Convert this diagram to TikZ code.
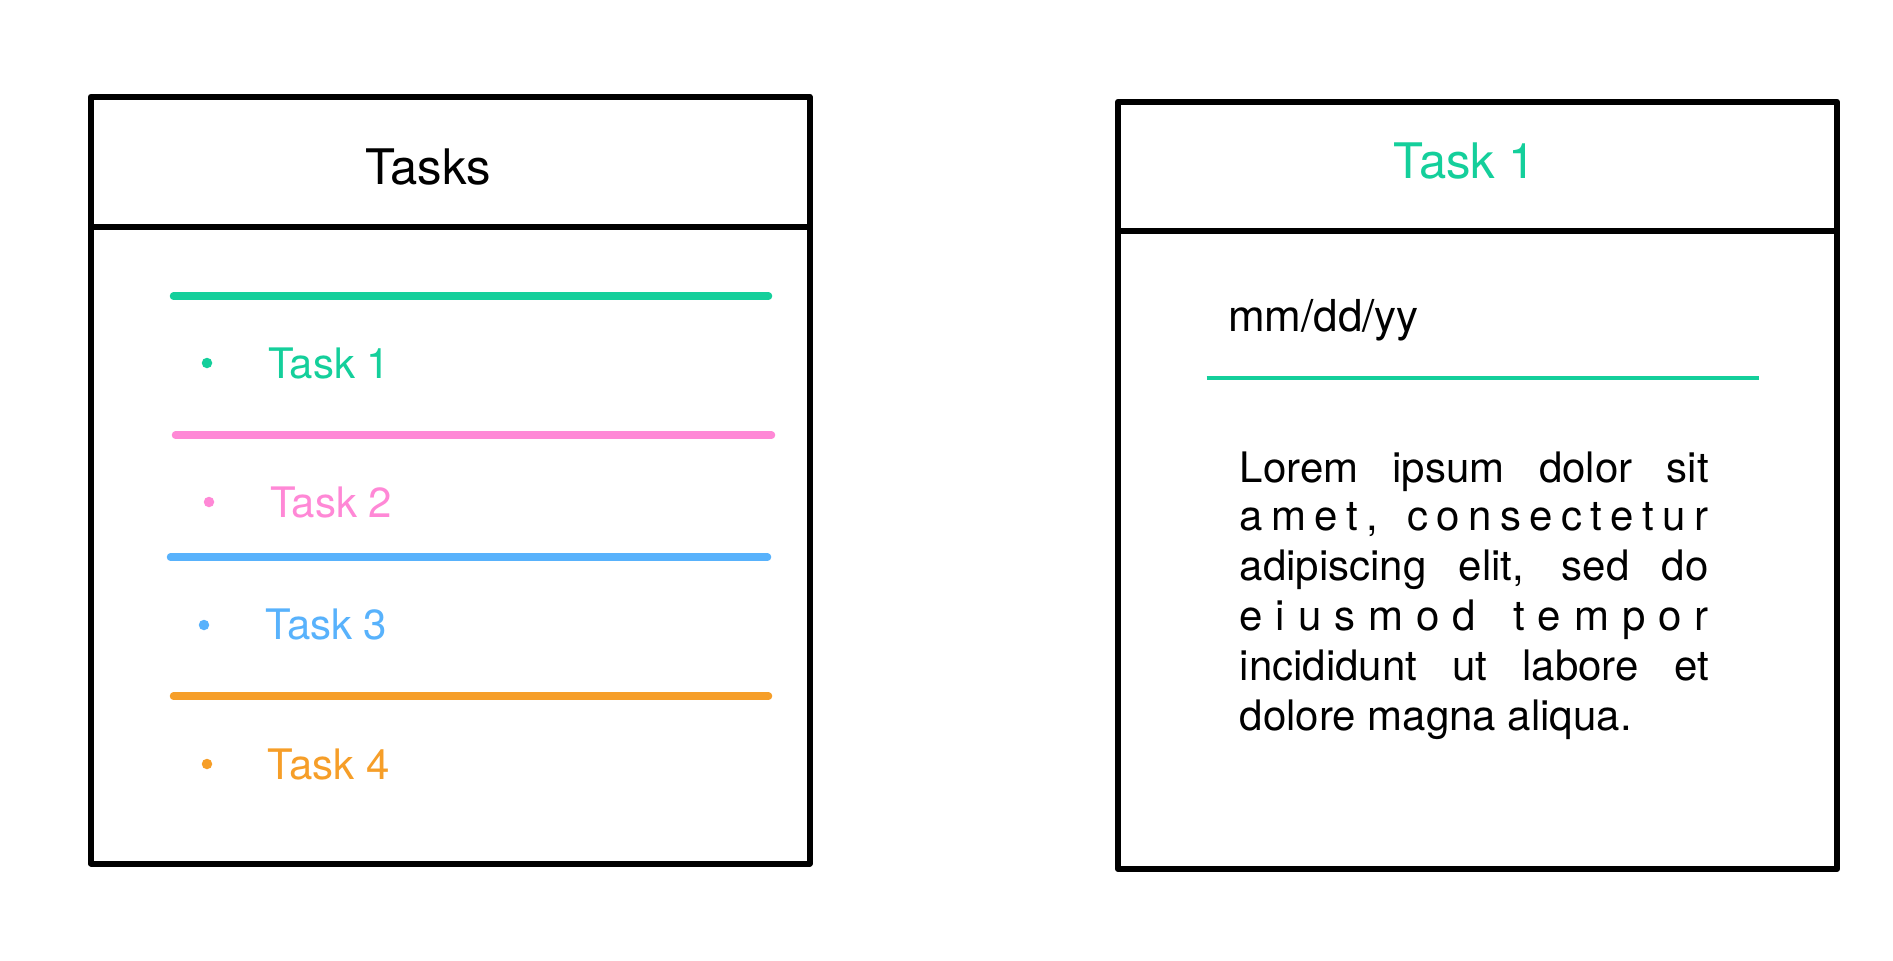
\documentclass[tikz,border=0pt]{standalone}
\usepackage{fontspec}
\setmainfont{TeX Gyre Heros}
\definecolor{tgreen}{RGB}{20,207,155}
\definecolor{tpink}{RGB}{255,136,214}
\definecolor{tblue}{RGB}{88,178,252}
\definecolor{torange}{RGB}{246,158,40}
\newcommand{\jline}[1]{\makebox[469pt][s]{#1}}
\begin{document}
\begin{tikzpicture}[x=1pt,y=-1pt,
  frame/.style={draw=black,line width=6pt,line join=round},
  sepline/.style={line width=7.5pt,line cap=round},
  txt/.style={inner sep=0pt,anchor=base west,font=\fontsize{42}{50}\selectfont},
  head/.style={inner sep=0pt,anchor=base,font=\fontsize{49}{56}\selectfont},
  dotb/.style={circle,inner sep=0pt,minimum size=10.5pt,draw=none}]
\fill[white] (0,0) rectangle (1893,961);
\useasboundingbox (0,0) rectangle (1893,961);
% left box
\coordinate (LTL) at (91,96.7);
\coordinate (LBR) at (809.5,863.5);
\draw[frame] (LTL) rectangle (LBR);
\coordinate (LDl) at (91,226.5);
\coordinate (LDr) at (809.5,226.5);
\draw[frame] (LDl) -- (LDr);
\node[head] (hTasks) at (428,184) {Tasks};
% colored separators
\coordinate (g1) at (173.5,296.2); \coordinate (g2) at (768.5,296.2);
\coordinate (k1) at (175.5,435.2); \coordinate (k2) at (771.5,435.2);
\coordinate (u1) at (170.5,557.2); \coordinate (u2) at (767.5,557.2);
\coordinate (o1) at (173.5,696.2); \coordinate (o2) at (768.5,696.2);
\draw[sepline,tgreen] (g1) -- (g2);
\draw[sepline,tpink] (k1) -- (k2);
\draw[sepline,tblue] (u1) -- (u2);
\draw[sepline,torange] (o1) -- (o2);
% bullets and labels
\node[dotb,fill=tgreen] (b1) at (207,363) {};
\node[dotb,fill=tpink] (b2) at (209,502) {};
\node[dotb,fill=tblue] (b3) at (204,625) {};
\node[dotb,fill=torange] (b4) at (207,764) {};
\node[txt,text=tgreen] (t1) at (268.2,378.3) {Task 1};
\node[txt,text=tpink] (t2) at (270,517.2) {Task 2};
\node[txt,text=tblue] (t3) at (265.3,639.2) {Task 3};
\node[txt,text=torange] (t4) at (267.7,779) {Task 4};
% right box
\coordinate (RTL) at (1118,101.8);
\coordinate (RBR) at (1837,869);
\draw[frame] (RTL) rectangle (RBR);
\coordinate (RDl) at (1118,231);
\coordinate (RDr) at (1837,231);
\draw[frame] (RDl) -- (RDr);
\node[head,text=tgreen] (hTask) at (1465,178) {Task 1};
\node[txt,font=\fontsize{44}{50}\selectfont] (date) at (1228,331) {mm/dd/yy};
\coordinate (d1) at (1206.5,378);
\coordinate (d2) at (1759,378);
\draw[tgreen,line width=4.2pt] (d1) -- (d2);
\node[txt] (p1) at (1239.5,482.5) {\jline{Lorem ipsum dolor sit}};
\node[txt] (p2) at (1239.5,530.3) {\jline{a\hfill m\hfill e\hfill t\hfill ,\hfill\ \hfill c\hfill o\hfill n\hfill s\hfill e\hfill c\hfill t\hfill e\hfill t\hfill u\hfill r}};
\node[txt] (p3) at (1239.5,580.6) {\jline{adipiscing elit, sed do}};
\node[txt] (p4) at (1239.5,630.3) {\jline{e\hfill i\hfill u\hfill s\hfill m\hfill o\hfill d\hfill\ \hfill t\hfill e\hfill m\hfill p\hfill o\hfill r}};
\node[txt] (p5) at (1239.5,680.6) {\jline{incididunt ut labore et}};
\node[txt] (p6) at (1239.5,730.8) {dolore magna aliqua.};
\end{tikzpicture}
\end{document}
